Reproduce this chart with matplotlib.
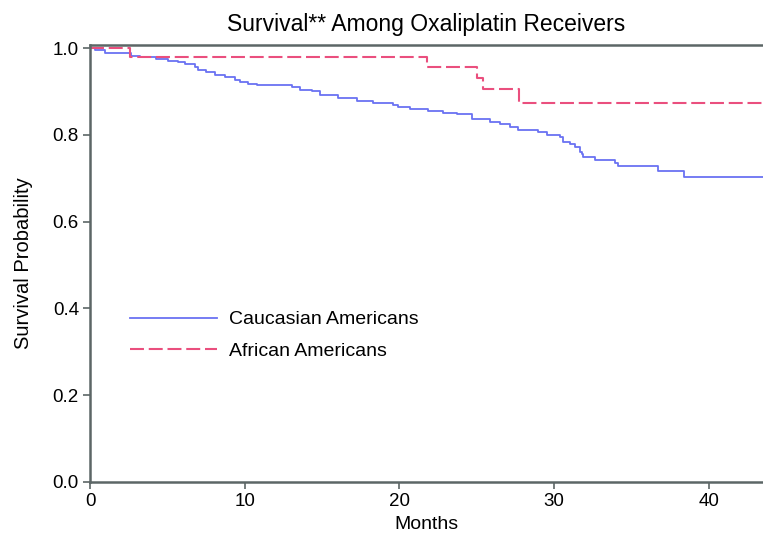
import matplotlib
matplotlib.use("Agg")
import matplotlib.pyplot as plt

plt.rcParams["font.family"] = ["Liberation Sans", "DejaVu Sans"]

# Kaplan-Meier steps (months, survival)
cauc_months = [0.0, 0.30, 0.95, 2.65, 3.21, 4.27, 5.04, 5.69, 6.12, 6.77,
               6.98, 7.50, 8.06, 8.71, 9.35, 9.68, 10.23, 10.78, 13.04, 13.58,
               14.33, 14.87, 16.06, 17.24, 18.32, 19.61, 19.93, 20.69, 21.87, 22.84,
               23.71, 24.68, 25.86, 26.50, 27.15, 27.69, 28.98, 29.52, 30.38, 30.59,
               31.03, 31.35, 31.67, 31.78, 31.89, 32.64, 33.94, 34.15, 36.74, 38.40, 44.0]
cauc_surv = [1.000, 0.995, 0.988, 0.982, 0.980, 0.975, 0.971, 0.968, 0.963, 0.957,
             0.949, 0.945, 0.939, 0.934, 0.926, 0.921, 0.917, 0.914, 0.911, 0.903,
             0.901, 0.892, 0.886, 0.878, 0.873, 0.869, 0.863, 0.859, 0.855, 0.851,
             0.847, 0.836, 0.830, 0.824, 0.819, 0.811, 0.806, 0.800, 0.794, 0.784,
             0.779, 0.773, 0.761, 0.756, 0.748, 0.742, 0.734, 0.728, 0.717, 0.703, 0.703]

afr_months = [0.0, 2.6, 21.8, 25.0, 25.4, 27.7, 44.0]
afr_surv = [1.000, 0.979, 0.956, 0.931, 0.905, 0.873, 0.873]

x_ticks = [0, 10, 20, 30, 40]
y_ticks = [0.0, 0.2, 0.4, 0.6, 0.8, 1.0]

BLUE = "#6a72f2"
PINK = "#ea4f7e"
SPINE = "#5c6666"

fig = plt.figure(figsize=(7.63, 5.38), dpi=100)
ax = fig.add_axes([90 / 763, 56 / 538, 673 / 763, 437 / 538])

ax.step(cauc_months, cauc_surv, where="post", color=BLUE, lw=1.3,
        label="Caucasian Americans")
ax.step(afr_months, afr_surv, where="post", color=PINK, lw=1.5,
        ls=(0, (6.7, 2.3)), label="African Americans")

ax.set_xlim(0, 43.5)
ax.set_ylim(0, 1.007)
ax.set_xticks(x_ticks)
ax.set_yticks(y_ticks)
ax.set_yticklabels([f"{v:.1f}" for v in y_ticks])
ax.tick_params(labelsize=13.5, length=5, width=1.2, color=SPINE, pad=3)

for side in ("left", "bottom", "top"):
    ax.spines[side].set_color(SPINE)
    ax.spines[side].set_linewidth(1.8)
ax.spines["right"].set_visible(False)

ax.set_xlabel("Months", fontsize=14, labelpad=4)
ax.set_ylabel("Survival Probability", fontsize=14.5, labelpad=14)
ax.set_title("Survival** Among Oxaliplatin Receivers", fontsize=16.5, pad=10)

ax.legend(loc="upper left", bbox_to_anchor=(0.033, 0.432), frameon=False,
          fontsize=14, handlelength=4.5, handletextpad=0.6, labelspacing=0.7)

fig.savefig("out.png", dpi=100)
